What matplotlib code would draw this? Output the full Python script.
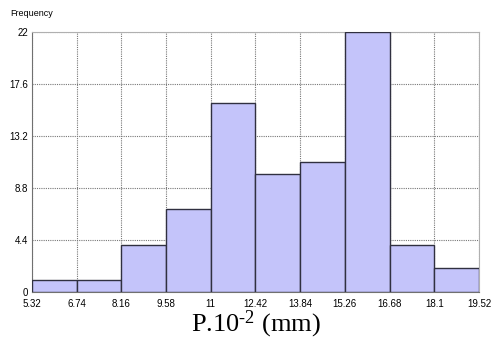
import matplotlib.pyplot as plt
import numpy as np

# --- DATA ---
bin_edges = [5.32, 6.74, 8.16, 9.58, 11, 12.42, 13.84, 15.26, 16.68, 18.1, 19.52]
frequencies = [1, 1, 4, 7, 16, 10, 11, 22, 4, 2]
x_tick_labels = ['5.32', '6.74', '8.16', '9.58', '11', '12.42', '13.84', '15.26', '16.68', '18.1', '19.52']
y_ticks = [0, 4.4, 8.8, 13.2, 17.6, 22]
y_tick_labels = ['0', '4.4', '8.8', '13.2', '17.6', '22']

plt.rcParams['mathtext.fontset'] = 'custom'
plt.rcParams['mathtext.rm'] = 'Liberation Serif'
plt.rcParams['mathtext.it'] = 'Liberation Serif:italic'

tick_font = {'family': 'Liberation Sans', 'size': 7}

fig = plt.figure(figsize=(4.92, 3.47), dpi=100)
ax = fig.add_axes([0.065, 0.1585, 0.9085, 0.7493])

edges = np.array(bin_edges)
ax.bar(edges[:-1], frequencies, width=np.diff(edges), align='edge',
       color='#c4c4fa', edgecolor='#303040', linewidth=1.0, zorder=3)

ax.set_xlim(edges[0], edges[-1])
ax.set_ylim(0, 22)
ax.set_xticks(bin_edges)
ax.set_xticklabels(x_tick_labels, fontdict=tick_font)
ax.set_yticks(y_ticks)
ax.set_yticklabels(y_tick_labels, fontdict=tick_font)
ax.tick_params(axis='x', length=0, pad=5)
ax.tick_params(axis='y', length=0, pad=3)

ax.grid(True, linestyle=(0, (1, 1)), color='#777777', linewidth=0.8, zorder=0)
for side in ['top', 'right']:
    ax.spines[side].set_color('#b0b0b0')
for side in ['left', 'bottom']:
    ax.spines[side].set_color('#707070')

fig.text(0.02, 0.955, 'Frequency', fontdict={'family': 'Liberation Sans', 'size': 6.5})
ax.set_xlabel('P.10$^{\u20102}$ (mm)', family='Liberation Serif', size=19, labelpad=0)

fig.savefig('out.png', dpi=100)
